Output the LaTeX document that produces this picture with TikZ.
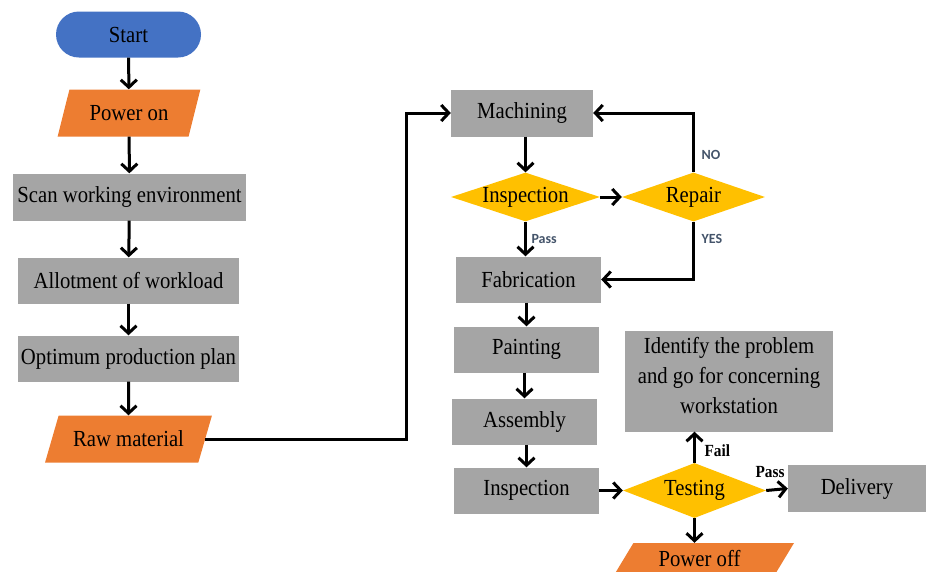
\documentclass[tikz,border=0pt]{standalone}
\usepackage{fontspec}
\setmainfont{Liberation Serif}[FakeStretch=0.9]
\newfontfamily\labelfont{Carlito}
\usetikzlibrary{shapes.geometric,arrows.meta}
\definecolor{startblue}{HTML}{4472C4}
\definecolor{ioorange}{HTML}{ED7D31}
\definecolor{boxgray}{HTML}{A5A5A5}
\definecolor{decgold}{HTML}{FFC000}
\definecolor{notegray}{HTML}{44546A}
\begin{document}
\begin{tikzpicture}[
        x=1pt, y=-1pt,
        every node/.style={font=\fontsize{23}{30}\selectfont},
        terminal/.style={fill=startblue, rounded corners=23pt, minimum width=145pt, minimum height=46pt},
        iobox/.style={trapezium, trapezium stretches=true, fill=ioorange, inner sep=2pt, minimum height=47pt},
        process/.style={rectangle, fill=boxgray, minimum height=46pt},
        decision/.style={diamond, fill=decgold, aspect=3, inner sep=0pt},
        flow/.style={line width=3pt, -{Straight Barb[length=7.5pt,width=16pt]}},
        boldnote/.style={font=\fontsize{17}{20}\selectfont\bfseries},
        sansnote/.style={font=\fontsize{14}{16}\selectfont\labelfont\bfseries, text=notegray}
      ]
      \clip (0,0) rectangle (926,571);
      % left column
      \node[terminal] (start) at (128.5,34.5) {Start};
      \node[iobox, minimum width=144pt, trapezium left angle=67, trapezium right angle=113] (pon) at (129,113) {Power on};
      \node[process, minimum width=233pt, minimum height=47pt] (scan) at (129.5,197) {Scan working environment};
      \node[process, minimum width=221pt] (allot) at (128.5,280.5) {Allotment of workload};
      \node[process, minimum width=221pt] (plan) at (128.5,358.5) {Optimum production plan};
      \node[iobox, minimum width=167pt, trapezium left angle=61, trapezium right angle=119] (raw) at (128.5,439) {Raw material};
      % right column
      \node[process, minimum width=142pt, minimum height=47pt] (mach) at (522,113) {Machining};
      \node[decision, minimum width=149pt, minimum height=48pt] (insp) at (525.5,197) {Inspection};
      \node[decision, minimum width=143pt, minimum height=49pt] (rep) at (693.5,197) {Repair};
      \node[process, minimum width=145pt] (fab) at (528.5,279.5) {Fabrication};
      \node[process, minimum width=145pt] (paint) at (526.5,349.5) {Painting};
      \node[process, minimum width=145pt] (assy) at (524.5,421.5) {Assembly};
      \node[process, minimum width=145pt] (insp2) at (526.5,490.5) {Inspection};
      \node[decision, minimum width=143pt, minimum height=55pt] (test) at (694.5,490.5) {Testing};
      \node[process, minimum width=208pt, minimum height=101pt, align=center, text depth=12pt] (ident) at (729,381) {Identify the problem\\and go for concerning\\workstation};
      \node[process, minimum width=138pt, minimum height=47pt] (deliv) at (857,488.5) {Delivery};
      \node[iobox, minimum width=189pt, trapezium left angle=63, trapezium right angle=117, text depth=16pt] (poff) at (699.5,566.5) {Power off};
      \coordinate (bend) at (406,113);
      % connectors
      \draw[flow] (start) -- (pon);
      \draw[flow] (pon) -- (scan);
      \draw[flow] (scan) -- (allot);
      \draw[flow] (allot) -- (plan);
      \draw[flow] (plan) -- (raw);
      \draw[flow] (raw.east) -| (bend) -- (mach.west);
      \draw[flow] (mach.south -| insp.north) -- (insp.north);
      \draw[flow] (insp.east) -- (rep.west);
      \draw[flow] (rep.north) |- (mach.east);
      \draw[flow] (rep.south) |- (fab.east);
      \draw[flow] (insp.south) -- (insp.south |- fab.north);
      \draw[flow] (fab.south -| paint.north) -- (paint.north);
      \draw[flow] (paint.south -| assy.north) -- (assy.north);
      \draw[flow] (assy.south -| insp2.north) -- (insp2.north);
      \draw[flow] (insp2.east) -- (test.west);
      \draw[flow] (test.north) -- (test.north |- ident.south);
      \draw[flow] (test.east) -- (deliv.west);
      \draw[flow] (test.south) -- (test.south |- poff.north);
      % labels
      \node[sansnote, anchor=west] (nolbl) at (698,155) {NO};
      \node[sansnote, anchor=west] (yeslbl) at (698,239) {YES};
      \node[sansnote, anchor=west] (passlbl) at (528,239) {Pass};
      \node[boldnote, anchor=west] (faillbl) at (701,451) {Fail};
      \node[boldnote] (passlbl2) at (770,472) {Pass};
\end{tikzpicture}
\end{document}
